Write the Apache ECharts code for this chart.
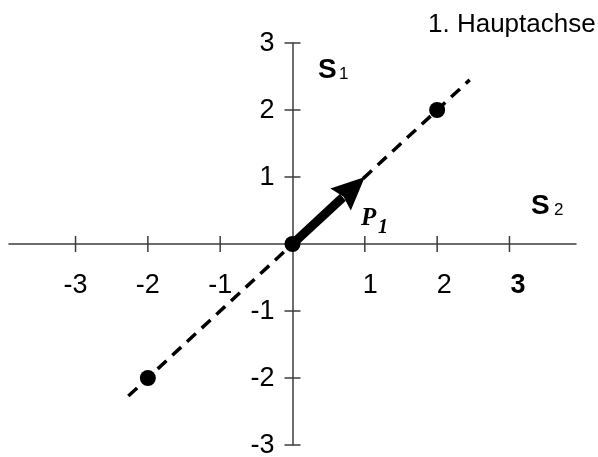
<!DOCTYPE html>
<html>
<head>
<meta charset="utf-8">
<script src="https://cdn.jsdelivr.net/npm/echarts@6/dist/echarts.min.js"></script>
<style>
  html, body { margin: 0; padding: 0; background: #fff; }
  #chart { width: 598px; height: 457px; }
</style>
</head>
<body>
<div id="chart"></div>
<script>
// Principal axis through the origin, with the unit direction vector P1
const xTicks = [-3, -2, -1, 1, 2, 3];
const yTicks = [-3, -2, -1, 1, 2, 3];
const xTickLabels = ['-3', '-2', '-1', '1', '2', '3'];
const yTickLabels = ['-3', '-2', '-1', '1', '2', '3'];
const axisLine = [[-2.27, -2.27], [2.45, 2.45]];
const axisPoints = [[-2, -2], [0, 0], [2, 2]];
const vectorP1 = [[0, 0, 1, 1]];

const FONT = '"Liberation Sans", Arial, sans-serif';
const SERIF = '"Liberation Serif", "Times New Roman", serif';
const AXIS_COLOR = '#3c3c3c';

const chart = echarts.init(document.getElementById('chart'), null, { renderer: 'canvas' });

// tick marks crossing the axis line on both sides
function tickSeries(values, horizontal) {
  return {
    type: 'custom',
    silent: true,
    z: 3,
    data: values.map(v => horizontal ? [v, 0] : [0, v]),
    renderItem: (params, api) => {
      const p = api.coord([api.value(0), api.value(1)]);
      const shape = horizontal
        ? { x1: p[0], y1: p[1] - 8, x2: p[0], y2: p[1] + 8 }
        : { x1: p[0] - 8, y1: p[1], x2: p[0] + 8, y2: p[1] };
      return { type: 'line', shape, style: { stroke: AXIS_COLOR, lineWidth: 1.5 } };
    }
  };
}

// tick labels placed next to the axes that cross at the origin
function labelSeries(values, labels, horizontal) {
  return {
    type: 'custom',
    silent: true,
    z: 3,
    data: values.map((v, i) => horizontal ? [v, 0, i] : [0, v, i]),
    renderItem: (params, api) => {
      const v = horizontal ? api.value(0) : api.value(1);
      const p = api.coord([api.value(0), api.value(1)]);
      const text = labels[api.value(2)];
      if (horizontal) {
        const shift = v > 0 ? 4 + 1.5 * v : 0;
        return {
          type: 'text',
          style: {
            text, x: p[0] + shift, y: p[1] + 42,
            align: 'center', verticalAlign: 'middle',
            font: (v === 3 ? 'bold ' : '') + '27px ' + FONT, fill: '#000'
          }
        };
      }
      return {
        type: 'text',
        style: {
          text, x: p[0] - 18, y: p[1] + 1,
          align: 'right', verticalAlign: 'middle',
          font: '27px ' + FONT, fill: '#000'
        }
      };
    }
  };
}

const option = {
  backgroundColor: '#fff',
  animation: false,
  title: {
    text: '1. Hauptachse',
    left: 428,
    top: 12,
    padding: 0,
    textStyle: { fontFamily: FONT, fontSize: 26, fontWeight: 'normal', color: '#000' }
  },
  grid: { left: 9, right: 22, top: 43, bottom: 12, containLabel: false, outerBoundsMode: 'none' },
  xAxis: {
    type: 'value',
    min: -3.92,
    max: 3.92,
    axisLine: { onZero: true, lineStyle: { color: AXIS_COLOR, width: 1.5 } },
    axisTick: { show: false },
    axisLabel: { show: false },
    splitLine: { show: false }
  },
  yAxis: {
    type: 'value',
    min: -3,
    max: 3,
    axisLine: { onZero: true, lineStyle: { color: AXIS_COLOR, width: 1.5 } },
    axisTick: { show: false },
    axisLabel: { show: false },
    splitLine: { show: false }
  },
  graphic: [
    { type: 'text', left: 318, top: 56, style: { text: 'S', font: 'bold 28px ' + FONT, fill: '#000' } },
    { type: 'text', left: 339, top: 66, style: { text: '1', font: '17px ' + FONT, fill: '#000' } },
    { type: 'text', left: 531, top: 192, style: { text: 'S', font: 'bold 28px ' + FONT, fill: '#000' } },
    { type: 'text', left: 554, top: 202, style: { text: '2', font: '17px ' + FONT, fill: '#000' } },
    { type: 'text', left: 361, top: 206, style: { text: 'P', font: 'italic bold 25px ' + SERIF, fill: '#000' } },
    { type: 'text', left: 378, top: 218, style: { text: '1', font: 'italic bold 20px ' + SERIF, fill: '#000' } }
  ],
  series: [
    tickSeries(xTicks, true),
    tickSeries(yTicks, false),
    labelSeries(xTicks, xTickLabels, true),
    labelSeries(yTicks, yTickLabels, false),
    {
      type: 'line',
      data: axisLine,
      symbol: 'none',
      silent: true,
      z: 4,
      lineStyle: { color: '#000', width: 3.5, type: [12, 8] }
    },
    {
      type: 'custom',
      silent: true,
      z: 5,
      data: vectorP1,
      renderItem: (params, api) => {
        const p0 = api.coord([api.value(0), api.value(1)]);
        const p1 = api.coord([api.value(2), api.value(3)]);
        const dx = p1[0] - p0[0], dy = p1[1] - p0[1];
        const len = Math.sqrt(dx * dx + dy * dy);
        const ux = dx / len, uy = dy / len;
        const nx = -uy, ny = ux;
        const headLen = 33, halfW = 15;
        const bx = p1[0] - ux * headLen, by = p1[1] - uy * headLen;
        return {
          type: 'group',
          children: [
            {
              type: 'line',
              shape: { x1: p0[0], y1: p0[1], x2: bx + ux * 3, y2: by + uy * 3 },
              style: { stroke: '#000', lineWidth: 9 }
            },
            {
              type: 'polygon',
              shape: { points: [[p1[0], p1[1]], [bx + nx * halfW, by + ny * halfW], [bx + ux * 4, by + uy * 4], [bx - nx * halfW, by - ny * halfW]] },
              style: { fill: '#000' }
            }
          ]
        };
      }
    },
    {
      type: 'scatter',
      data: axisPoints,
      symbol: 'circle',
      symbolSize: 16,
      silent: true,
      z: 6,
      itemStyle: { color: '#000', opacity: 1 }
    }
  ]
};

chart.setOption(option);
</script>
</body>
</html>
